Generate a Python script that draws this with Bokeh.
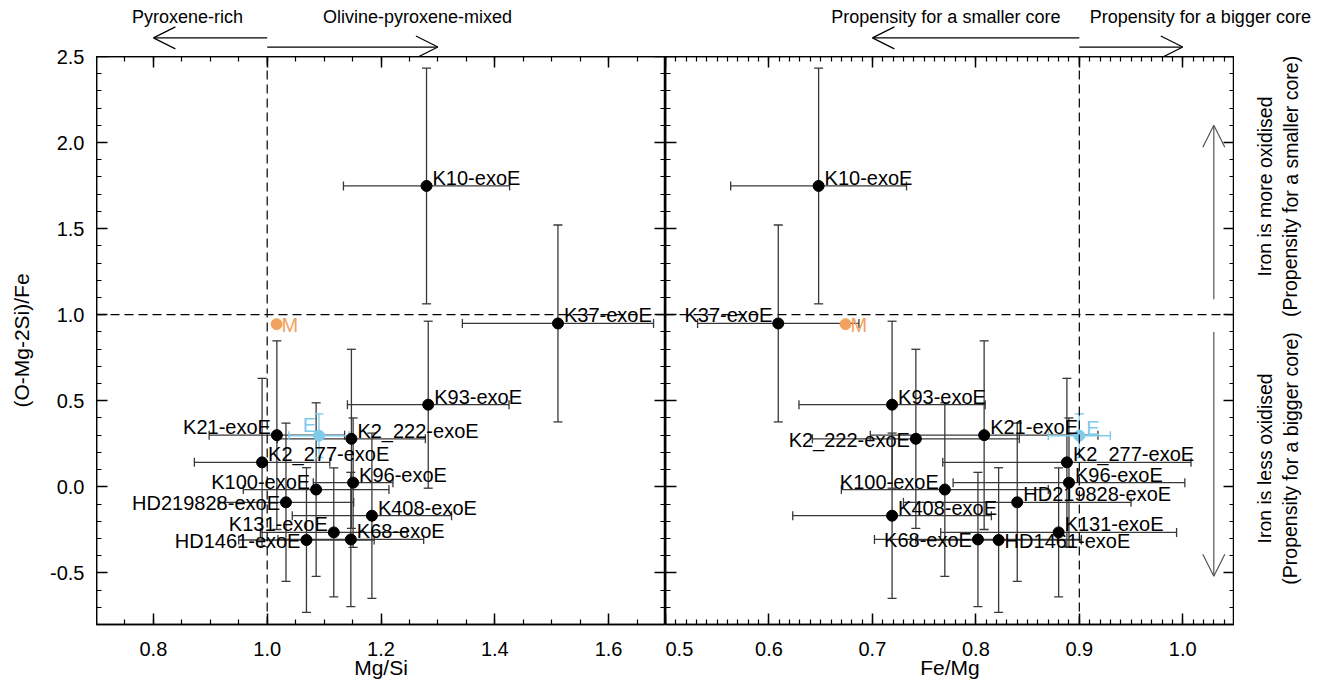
from bokeh.plotting import figure
from bokeh.models import (ColumnDataSource, Range1d, LinearAxis, FixedTicker, Whisker,
                          TeeHead, Span, Arrow, OpenHead, PrintfTickFormatter, Spacer)
from bokeh.layouts import row, column
from bokeh.embed import file_html
from bokeh.resources import INLINE
from bokeh.core.properties import value

# ---------------- data ----------------
names = ["K10-exoE", "K37-exoE", "K93-exoE", "K21-exoE", "K2_222-exoE", "K2_277-exoE",
         "K96-exoE", "K100-exoE", "HD219828-exoE", "K408-exoE", "K131-exoE", "K68-exoE",
         "HD1461-exoE"]
mg_si = [1.280, 1.511, 1.283, 1.017, 1.148, 0.991, 1.151, 1.086, 1.033, 1.184, 1.117, 1.147, 1.069]
mg_si_err = [0.146, 0.168, 0.142, 0.119, 0.130, 0.119, 0.070, 0.128, 0.119, 0.140, 0.129, 0.128, 0.119]
fe_mg = [0.648, 0.609, 0.719, 0.808, 0.742, 0.888, 0.890, 0.770, 0.840, 0.719, 0.880, 0.802, 0.822]
fe_mg_err = [0.085, 0.078, 0.090, 0.110, 0.100, 0.120, 0.112, 0.100, 0.110, 0.096, 0.114, 0.100, 0.080]
oxid = [1.748, 0.949, 0.477, 0.300, 0.279, 0.142, 0.024, -0.016, -0.090, -0.168, -0.265, -0.306, -0.309]
oxid_err = [0.685, 0.572, 0.485, 0.548, 0.520, 0.488, 0.376, 0.504, 0.460, 0.480, 0.375, 0.390, 0.420]

earth_name = "E"
earth_mg_si, earth_mg_si_err = 1.091, 0.053
earth_fe_mg, earth_fe_mg_err = 0.900, 0.030
earth_oxid, earth_oxid_err = 0.297, 0.127

mars_name = "M"
mars_mg_si, mars_fe_mg, mars_oxid = 1.0165, 0.674, 0.945

y_ticks = [-0.5, 0.0, 0.5, 1.0, 1.5, 2.0, 2.5]
left_x_ticks = [0.8, 1.0, 1.2, 1.4, 1.6]
right_x_ticks = [0.5, 0.6, 0.7, 0.8, 0.9, 1.0]

top_left_texts = ["Pyroxene-rich", "Olivine-pyroxene-mixed"]
top_right_texts = ["Propensity for a smaller core", "Propensity for a bigger core"]
side_texts_upper = ["Iron is more oxidised", "(Propensity for a smaller core)"]
side_texts_lower = ["Iron is less oxidised", "(Propensity for a bigger core)"]

# label placement (which side of the point, vertical shift in px)
left_side = ["r", "r", "r", "l", "r", "r", "r", "l", "l", "r", "l", "r", "l"]
left_dy = [-8, -8, -8, -8, -8, -8, -8, -8, 1, -8, -8, -8, 1]
right_side = ["r", "l", "r", "r", "l", "r", "r", "l", "r", "r", "r", "l", "r"]
right_dy = [-8, -8, -8, -8, 1, -8, -8, -8, -8, -8, -8, 1, 1]

# ---------------- style ----------------
FONT = "Liberation Sans"
EC = "#383838"
SKY = "#80CBEA"
ORANGE = "#F2A25E"
FW, FH = 569, 568          # frame size of each panel
BL, BT, BB, BR = 96, 56, 62, 85
YTOP = 12                  # room above the y axis for its top tick label

y_range = Range1d(-0.8, 2.5)
px_per_y = FH / (2.5 - (-0.8))
y_minor = [round(-0.8 + 0.1 * i, 3) for i in range(34)]
left_minor = [round(0.7 + 0.05 * i, 3) for i in range(21)]
right_minor = [round(0.5 + 0.01 * i, 3) for i in range(56)]
fmt = PrintfTickFormatter(format="%.1f")


def style_axis(ax, ticks, minor, show_labels):
    ax.ticker = FixedTicker(ticks=ticks, minor_ticks=minor)
    ax.formatter = fmt
    ax.major_tick_in = 11
    ax.major_tick_out = 0
    ax.minor_tick_in = 5
    ax.minor_tick_out = 0
    ax.axis_line_color = "black"
    ax.axis_line_width = 1.5
    ax.major_tick_line_color = "black"
    ax.major_tick_line_width = 1.5
    ax.minor_tick_line_color = "black"
    ax.minor_tick_line_width = 1.2
    if show_labels:
        ax.major_label_text_font = FONT
        ax.major_label_text_font_size = "20px"
        ax.major_label_text_color = "black"
        ax.major_label_standoff = 12
        ax.axis_label_text_font = FONT
        ax.axis_label_text_font_size = "21px"
        ax.axis_label_text_font_style = "normal"
        ax.axis_label_text_color = "black"
    else:
        ax.major_label_text_font_size = "0px"
        ax.major_label_text_alpha = 0
        ax.major_label_standoff = 0


def bare_figure(**kw):
    f = figure(x_axis_location=None, y_axis_location=None, output_backend="svg",
               toolbar_location=None, **kw)
    f.grid.visible = False
    f.outline_line_color = None
    f.background_fill_color = "white"
    f.border_fill_color = "white"
    return f


def make_panel(x_range, xt, xminor, xlabel, xs, xerrs, side, dy,
               ex, exerr, e_side, e_dx, e_dy, mx):
    p = bare_figure(x_range=x_range, y_range=y_range, frame_width=FW, frame_height=FH,
                    min_border_left=0, min_border_right=0,
                    min_border_top=0, min_border_bottom=BB)
    p.outline_line_color = "black"
    p.outline_line_width = 1.5

    bottom = LinearAxis(axis_label=xlabel)
    style_axis(bottom, xt, xminor, True)
    bottom.major_label_standoff = 17
    bottom.axis_label_standoff = -3
    p.add_layout(bottom, "below")
    top = LinearAxis()
    style_axis(top, xt, xminor, False)
    p.add_layout(top, "above")
    left = LinearAxis()
    style_axis(left, y_ticks, y_minor, False)
    p.add_layout(left, "left")
    right = LinearAxis()
    style_axis(right, y_ticks, y_minor, False)
    p.add_layout(right, "right")

    p.add_layout(Span(location=1.0, dimension="width", line_color="black",
                      line_dash="9 5", line_width=1.2))

    src = ColumnDataSource(dict(
        x=xs, y=oxid, name=names,
        xlo=[a - b for a, b in zip(xs, xerrs)], xhi=[a + b for a, b in zip(xs, xerrs)],
        ylo=[a - b for a, b in zip(oxid, oxid_err)], yhi=[a + b for a, b in zip(oxid, oxid_err)],
    ))
    for dim, base, lo, hi in (("width", "y", "xlo", "xhi"), ("height", "x", "ylo", "yhi")):
        p.add_layout(Whisker(source=src, base=base, lower=lo, upper=hi, dimension=dim,
                             line_color=EC, line_width=1.3, level="underlay",
                             upper_head=TeeHead(size=9, line_color=EC, line_width=1.3),
                             lower_head=TeeHead(size=9, line_color=EC, line_width=1.3)))

    esrc = ColumnDataSource(dict(x=[ex], y=[earth_oxid], xlo=[ex - exerr], xhi=[ex + exerr],
                                 ylo=[earth_oxid - earth_oxid_err], yhi=[earth_oxid + earth_oxid_err]))
    for dim, base, lo, hi in (("width", "y", "xlo", "xhi"), ("height", "x", "ylo", "yhi")):
        p.add_layout(Whisker(source=esrc, base=base, lower=lo, upper=hi, dimension=dim,
                             line_color=SKY, line_width=1.4, level="underlay",
                             upper_head=TeeHead(size=9, line_color=SKY, line_width=1.4),
                             lower_head=TeeHead(size=9, line_color=SKY, line_width=1.4)))

    p.scatter(x="x", y="y", source=src, size=11, color="black")
    p.scatter(x="x", y="y", source=esrc, size=11, color=SKY)
    p.scatter(x=[mx], y=[mars_oxid], size=11, color=ORANGE)

    for s, align, dx in (("r", "left", 6), ("l", "right", -6)):
        idx = [i for i in range(len(names)) if side[i] == s]
        lsrc = ColumnDataSource(dict(x=[xs[i] for i in idx], y=[oxid[i] for i in idx],
                                     t=[names[i] for i in idx], dy=[dy[i] for i in idx]))
        p.text(x="x", y="y", text="t", source=lsrc, text_align=align, text_baseline="middle",
               x_offset=dx, y_offset="dy", text_font=value(FONT), text_font_size="20px",
               text_color="black")
    p.text(x=[ex], y=[earth_oxid], text=[earth_name], text_align=e_side, text_baseline="middle",
           x_offset=e_dx, y_offset=e_dy, text_font=value(FONT), text_font_size="20px", text_color=SKY)
    p.text(x=[mx], y=[mars_oxid], text=[mars_name], text_align="left", text_baseline="middle",
           x_offset=5, y_offset=1, text_font=value(FONT), text_font_size="20px", text_color=ORANGE)
    return p


def arrow(p, x0, y0, x1, y1, color="black"):
    p.add_layout(Arrow(x_start=x0, y_start=y0, x_end=x1, y_end=y1, line_color=color, line_width=1.2,
                       end=OpenHead(size=22, line_color=color, line_width=1.2)))


xr_left = Range1d(0.7, 1.7)
xr_right = Range1d(0.5, 1.05)

p1 = make_panel(xr_left, left_x_ticks, left_minor, "Mg/Si", mg_si, mg_si_err, left_side, left_dy,
                earth_mg_si, earth_mg_si_err, "right", -3, -11, mars_mg_si)
p1.add_layout(Span(location=1.0, dimension="height", line_color="black", line_dash="9 5", line_width=1.2))

p2 = make_panel(xr_right, right_x_ticks, right_minor, "Fe/Mg", fe_mg, fe_mg_err, right_side, right_dy,
                earth_fe_mg, earth_fe_mg_err, "left", 7, -8, mars_fe_mg)
p2.add_layout(Span(location=0.9, dimension="height", line_color="black", line_dash="9 5", line_width=1.2))

# vertical arrows inside the right panel
arrow(p2, 1.03, 1.09, 1.03, 2.10, "#555555")
arrow(p2, 1.03, 0.90, 1.03, -0.52, "#555555")

# ---- y axis labels (own narrow figure so the top label has room) ----
yfig = bare_figure(x_range=Range1d(0, 1), y_range=y_range, frame_width=1, frame_height=FH,
                   min_border_left=BL - 1, min_border_right=0, min_border_top=YTOP,
                   min_border_bottom=BB)
yax = LinearAxis(axis_label="(O-Mg-2Si)/Fe")
style_axis(yax, y_ticks, y_minor, True)
yax.axis_line_color = None
yax.major_tick_line_color = None
yax.minor_tick_line_color = None
yax.major_label_standoff = 11
yax.axis_label_standoff = 14
yfig.add_layout(yax, "left")
corner = Spacer(width=BL, height=BT - YTOP)

# ---- strips above the panels (same x scale, y continues above 2.5) ----
strip_top = 2.5 + BT / px_per_y
TOP_TXT_Y = 2.731
ARW_Y1, ARW_Y2 = 2.608, 2.555

s1 = bare_figure(x_range=xr_left, y_range=Range1d(2.5, strip_top), frame_width=FW, frame_height=BT,
                 min_border_left=0, min_border_right=0, min_border_top=0, min_border_bottom=0)
s1.text(x=[0.86, 1.264], y=[TOP_TXT_Y, TOP_TXT_Y], text=top_left_texts, text_align="center",
        text_baseline="middle", text_font=value(FONT), text_font_size="18px", text_color="black")
arrow(s1, 1.0, ARW_Y1, 0.8, ARW_Y1)
arrow(s1, 1.0, ARW_Y2, 1.3, ARW_Y2)

right_strip_end = 0.5 + 0.55 * (FW + BR) / FW
s2 = bare_figure(x_range=Range1d(0.5, right_strip_end), y_range=Range1d(2.5, strip_top),
                 frame_width=FW + BR, frame_height=BT,
                 min_border_left=0, min_border_right=0, min_border_top=0, min_border_bottom=0)
s2.text(x=[0.771, 1.017], y=[TOP_TXT_Y, TOP_TXT_Y], text=top_right_texts, text_align="center",
        text_baseline="middle", text_font=value(FONT), text_font_size="18px", text_color="black")
arrow(s2, 0.9, ARW_Y1, 0.7, ARW_Y1)
arrow(s2, 0.9, ARW_Y2, 1.0, ARW_Y2)

# ---- side strip on the right with rotated texts ----
side = bare_figure(x_range=Range1d(0, BR), y_range=y_range, frame_width=BR, frame_height=FH,
                   min_border_left=0, min_border_right=0, min_border_top=0, min_border_bottom=BB)
side.text(x=[30, 56], y=[1.745, 1.745], text=side_texts_upper, angle=1.5707963,
          text_align="center", text_baseline="middle", text_font=value(FONT),
          text_font_size="19.5px", text_color="black")
side.text(x=[30, 56], y=[0.165, 0.165], text=side_texts_lower, angle=1.5707963,
          text_align="center", text_baseline="middle", text_font=value(FONT),
          text_font_size="19.5px", text_color="black")

layout = row(column(corner, yfig), column(s1, p1), column(s2, row(p2, side)))
open("out.html", "w").write(file_html(layout, INLINE))
